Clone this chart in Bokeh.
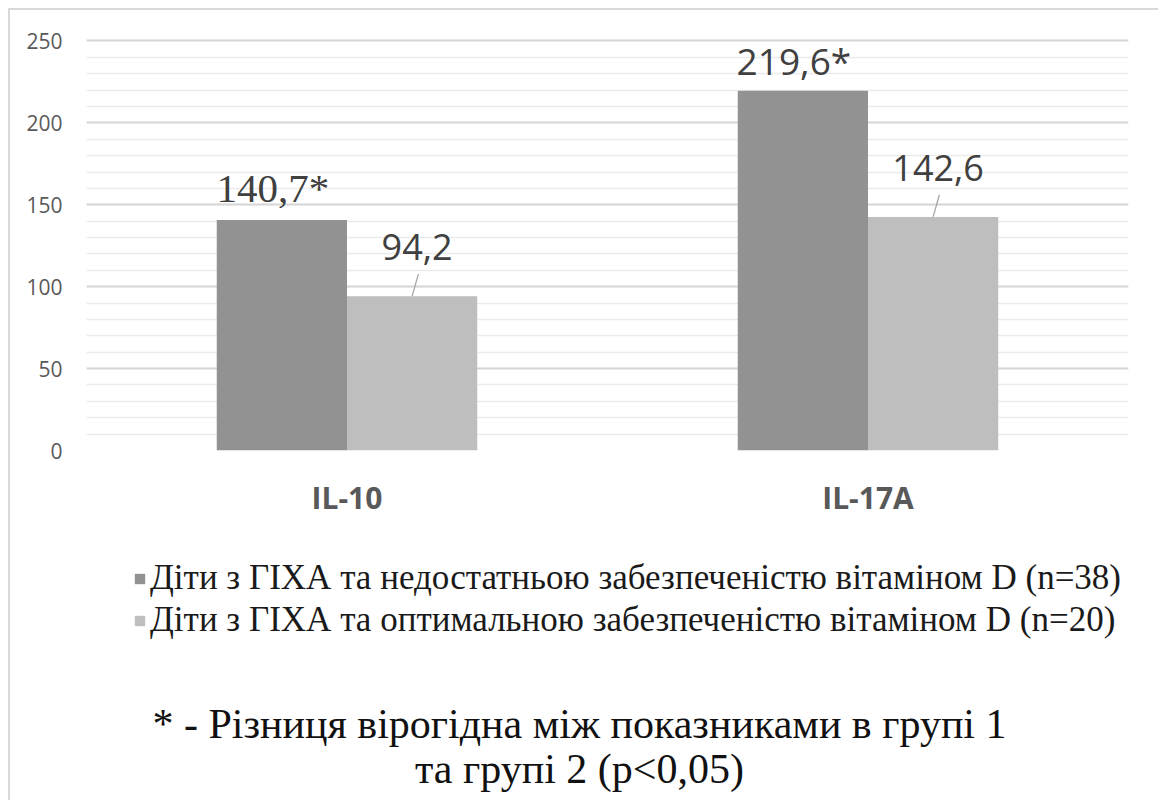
from bokeh.plotting import figure
from bokeh.layouts import column
from bokeh.models import (ColumnDataSource, FactorRange, Range1d, SingleIntervalTicker,
                          Legend, LegendItem, Label, LabelSet)
from bokeh.core.properties import value
from bokeh.transform import dodge
from bokeh.embed import file_html
from bokeh.resources import INLINE

# --- data ---------------------------------------------------------------
categories = ["IL-10", "IL-17A"]
group1_values = [140.7, 219.6]      # insufficient vitamin D (n=38)
group2_values = [94.2, 142.6]       # optimal vitamin D (n=20)
group1_significant = [True, True]
group2_significant = [False, False]
group1_name = "Діти з ГІХА та недостатньою забезпеченістю вітаміном D (n=38)"
group2_name = "Діти з ГІХА та оптимальною забезпеченістю вітаміном D (n=20)"
footnote_lines = ["* - Різниця вірогідна між показниками в групі 1",
                  "та групі 2 (p<0,05)"]
y_max = 250
y_step = 50


def fmt(v, star):
    return f"{v:.1f}".replace(".", ",") + ("*" if star else "")


g1_labels = [fmt(v, s) for v, s in zip(group1_values, group1_significant)]
g2_labels = [fmt(v, s) for v, s in zip(group2_values, group2_significant)]

src = ColumnDataSource(dict(
    cat=categories,
    g1=group1_values,
    g2=group2_values,
    g2_lab=g2_labels,
    g2_lead=[v + 13.5 for v in group2_values],
))


def label_source(idx):
    return ColumnDataSource(dict(cat=[categories[i] for i in idx],
                                 val=[group1_values[i] for i in idx],
                                 lab=[g1_labels[i] for i in idx]))


DARK = "#929292"
LIGHT = "#bebebe"
TXT = "#404040"
W = 1148

# ---- bar chart ------------------------------------------------------------
p = figure(width=W, height=520,
           x_range=FactorRange(factors=categories, range_padding=0),
           y_range=Range1d(0, y_max + 1.5),
           output_backend="svg", toolbar_location=None,
           min_border_left=76, min_border_right=30,
           min_border_top=28, min_border_bottom=80)
p.outline_line_color = None
p.background_fill_color = "white"
p.border_fill_color = "white"

bw = 0.25
p.vbar(x=dodge("cat", -bw / 2, range=p.x_range), top="g1", width=bw,
       source=src, fill_color=DARK, line_color=None)
p.vbar(x=dodge("cat", bw / 2, range=p.x_range), top="g2", width=bw,
       source=src, fill_color=LIGHT, line_color=None)

# leader lines for the light-bar labels
p.segment(x0=dodge("cat", bw / 2, range=p.x_range), y0="g2",
          x1=dodge("cat", bw / 2 + 0.012, range=p.x_range), y1="g2_lead",
          source=src, line_color="#a6a6a6", line_width=1.3)

# value labels (the IL-10 one is set in a serif face)
p.add_layout(LabelSet(x=dodge("cat", -bw / 2, range=p.x_range), y="val", text="lab",
                      source=label_source([0]),
                      text_font="Liberation Serif", text_font_size="41px",
                      text_color=TXT, text_align="center", text_baseline="middle",
                      x_offset=-9, y_offset=32))
p.text(x=dodge("cat", -bw / 2, range=p.x_range), y="val", text="lab",
       source=label_source([1]),
       text_font=value("Open Sans"), text_font_size="37px",
       text_color=TXT, text_align="center", text_baseline="middle",
       x_offset=-9, y_offset=-30)
p.text(x=dodge("cat", bw / 2, range=p.x_range), y="g2", text="g2_lab",
       source=src, text_font=value("Open Sans"), text_font_size="36px",
       text_color=TXT, text_align="center", text_baseline="middle",
       x_offset=5, y_offset=-49)

p.yaxis.ticker = SingleIntervalTicker(interval=y_step, num_minor_ticks=5)
p.yaxis.axis_line_color = None
p.yaxis.major_tick_line_color = None
p.yaxis.minor_tick_line_color = None
p.yaxis.major_label_text_font = "Open Sans"
p.yaxis.major_label_text_font_size = "21px"
p.yaxis.major_label_text_color = "#595959"
p.yaxis.major_label_standoff = 18

p.xaxis.axis_line_color = None
p.xaxis.major_tick_line_color = None
p.xaxis.minor_tick_line_color = None
p.xaxis.major_label_text_font = "Open Sans"
p.xaxis.major_label_text_font_style = "bold"
p.xaxis.major_label_text_font_size = "30px"
p.xaxis.major_label_text_color = "#595959"
p.xaxis.major_label_standoff = 20

p.xgrid.grid_line_color = None
p.ygrid.grid_line_color = "#d6d6d6"
p.ygrid.grid_line_width = 2
p.ygrid.minor_grid_line_color = "#ebebeb"
p.ygrid.minor_grid_line_width = 1.5

# ---- legend and footnote panel (its frame lines up with the chart's) -------
H2 = 270
q = figure(width=W, height=H2, x_range=Range1d(86, 1128), y_range=Range1d(H2, 0),
           output_backend="svg", toolbar_location=None,
           x_axis_location=None, y_axis_location=None, min_border=0)
q.outline_line_color = None
q.grid.visible = False
q.border_fill_color = "white"

# zero-size bars that only carry the series colours for the legend keys
k1 = q.vbar(x=[0], top=[0], width=0, fill_color=DARK, line_color=None)
k2 = q.vbar(x=[0], top=[0], width=0, fill_color=LIGHT, line_color=None)
legend = Legend(items=[LegendItem(label=group1_name, renderers=[k1]),
                       LegendItem(label=group2_name, renderers=[k2])],
                location=(47, 160), orientation="vertical",
                glyph_width=13, glyph_height=13, label_standoff=4,
                label_height=38, spacing=2, padding=0, margin=0,
                border_line_color=None, background_fill_alpha=0,
                label_text_font="Liberation Serif", label_text_font_size="35px",
                label_text_color="#1a1a1a")
q.add_layout(legend, "center")

for i, line in enumerate(footnote_lines):
    q.add_layout(Label(x=579, y=193 + 45 * i, text=line,
                       text_align="center", text_baseline="middle",
                       text_font="Liberation Serif", text_font_size="42px",
                       text_color="#111111"))

page = column(p, q, spacing=0,
              styles={"margin-left": "8px", "margin-top": "8px",
                      "border-left": "2px solid #d9d9d9",
                      "border-top": "2px solid #d9d9d9"})

open("out.html", "w").write(file_html(page, INLINE))
